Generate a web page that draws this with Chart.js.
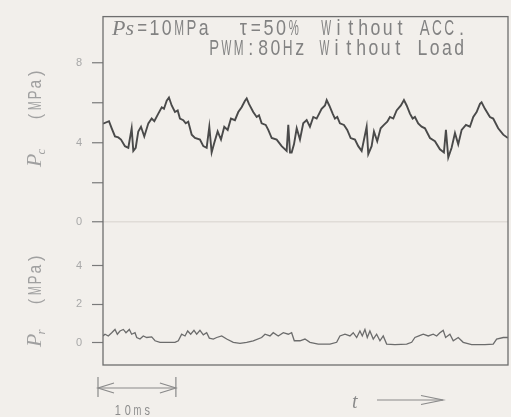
<!DOCTYPE html>
<html>
<head>
<meta charset="utf-8">
<script src="https://cdn.jsdelivr.net/npm/chart.js@4/dist/chart.umd.min.js"></script>
<style>
html, body { margin: 0; padding: 0; background: #f2efeb; }
canvas { display: block; }
</style>
</head>
<body>
<canvas id="c" width="511" height="417"></canvas>
<script>
// Control pressure Pc (MPa) against time (ms)
const pcTime = [0, 0.77, 1.12, 1.54, 1.96, 2.31, 2.82, 3.25, 3.68, 3.89, 4.20, 4.53, 4.88, 5.30, 5.82, 6.25, 6.59, 7.10, 7.54, 7.83, 8.18, 8.47, 8.82, 9.24, 9.59, 9.88, 10.31, 10.62, 10.95, 11.39, 11.81, 12.45, 12.88, 13.31, 13.65, 13.95, 14.29, 14.72, 15.15, 15.57, 16.01, 16.43,
  16.94, 17.37, 17.80, 18.23, 18.45, 18.74, 19.29, 19.73, 20.03, 20.37, 20.89, 21.22, 21.66, 22.30, 22.94, 23.58, 23.79, 24.01, 24.22, 24.52, 24.87, 25.29, 25.71, 26.15, 26.57, 27.00, 27.43, 28.07, 28.50, 28.72, 29.05, 29.49, 29.78, 30.08, 30.42, 30.94, 31.36, 31.80, 32.35, 32.77, 33.21, 33.85, 34.06, 34.49, 34.79, 35.21, 35.65, 36.07, 36.50, 36.84, 37.27, 37.70, 38.25, 38.64, 38.99, 39.41, 39.76, 40.05, 40.47, 40.91, 41.34, 41.98, 42.62, 43.26, 43.77, 44.03, 44.33, 44.76, 45.19, 45.61, 46.05, 46.60, 47.11, 47.54, 47.97, 48.40, 48.61, 49.04, 49.68, 50.10, 50.74, 51.39, 51.99];
const pcValues = [4.95, 5.08, 4.72, 4.31, 4.26, 4.15, 3.82, 3.74, 4.72, 3.58, 3.74, 4.56, 4.80, 4.31, 4.97, 5.21, 5.08, 5.46, 5.78, 5.70, 6.11, 6.27, 5.87, 5.54, 5.62, 5.21, 5.13, 4.97, 5.05, 4.40, 4.23, 4.15, 3.82, 3.74, 4.80, 3.50, 3.99, 4.56, 4.15, 4.80, 4.64, 5.21,
  5.13, 5.54, 5.78, 6.11, 6.23, 5.95, 5.54, 5.29, 5.38, 4.97, 4.89, 4.64, 4.23, 4.15, 3.82, 3.58, 4.89, 3.50, 3.50, 3.91, 4.72, 4.15, 4.97, 5.13, 4.80, 5.29, 5.21, 5.70, 5.87, 6.14, 5.87, 5.46, 5.21, 5.29, 4.97, 4.89, 4.64, 4.23, 4.15, 3.82, 3.58, 4.80, 3.42, 3.82, 4.56, 4.07, 4.72, 4.89, 5.05, 5.29, 5.21, 5.62, 5.87, 6.14, 5.87, 5.46, 5.21, 5.29, 4.97, 4.80, 4.72, 4.23, 4.07, 3.66, 3.50, 4.64, 3.25, 3.74, 4.48, 3.91, 4.64, 4.89, 4.80, 5.29, 5.54, 5.95, 6.03, 5.70, 5.29, 5.21, 4.72, 4.40, 4.23];

// Return pressure Pr (MPa) against time (ms)
const prTime = [0, 0.26, 0.68, 1.12, 1.54, 1.84, 2.18, 2.61, 2.95, 3.38, 3.68, 4.11, 4.33, 4.75, 5.17, 5.61, 6.25, 6.68, 7.32, 8.18, 9.24, 9.67, 10.10, 10.53, 10.87, 11.26, 11.68, 12.03, 12.45, 12.88, 13.31, 13.65, 14.16, 14.60, 15.24, 15.88, 16.73, 17.59, 18.45, 19.29, 20.37, 20.80, 21.44, 21.86, 22.50, 23.15, 23.79, 24.22, 24.56, 25.29, 25.93, 26.57, 27.64, 29.14, 30.00, 30.42, 31.07, 31.71, 32.13, 32.57, 32.99, 33.29, 33.63, 33.93, 34.27, 34.70, 35.13, 35.56, 35.98, 36.42, 37.48, 38.99, 39.63, 40.05, 40.56, 41.12, 41.76, 42.40, 42.84, 43.26, 43.68, 43.99, 44.54, 44.97, 45.61, 46.25, 47.33, 49.04, 50.10, 50.54, 51.39, 51.99];
const prValues = [0.35, 0.44, 0.35, 0.52, 0.69, 0.44, 0.61, 0.69, 0.52, 0.69, 0.44, 0.52, 0.27, 0.19, 0.35, 0.27, 0.30, 0.10, 0.02, 0.02, 0.02, 0.10, 0.44, 0.35, 0.61, 0.44, 0.64, 0.44, 0.64, 0.41, 0.52, 0.24, 0.19, 0.27, 0.35, 0.19, 0.02, -0.04, 0.02, 0.10, 0.27, 0.44, 0.35, 0.52, 0.35, 0.52, 0.44, 0.52, 0.10, 0.10, 0.19, 0.02, -0.07, -0.07, 0.02, 0.35, 0.44, 0.35, 0.52, 0.27, 0.61, 0.35, 0.69, 0.27, 0.61, 0.19, 0.44, 0.10, 0.35, -0.07, -0.10, -0.07, 0.02, 0.27, 0.35, 0.44, 0.35, 0.44, 0.35, 0.52, 0.64, 0.27, 0.44, 0.10, 0.27, 0.02, -0.10, -0.10, -0.07, 0.19, 0.27, 0.27];

// Axis ticks and their printed labels
const pcTicks = [0, 2, 4, 6, 8];
const pcTickLabels = ['0', '', '4', '', '8'];
const prTicks = [0, 2, 4];
const prTickLabels = ['0', '2', '4'];

const timeMin = 0, timeMax = 52, scaleBarMs = 10;

const faint = '#a0a0a0';

function toPoints(xs, ys) { return xs.map((t, i) => ({ x: t, y: ys[i] })); }

// typewriter-style text: narrow glyphs on a fixed pitch, wide letters squeezed into their cell
function pitchText(ctx, str, x, y, pitch, size, sx) {
  ctx.save();
  ctx.font = size + 'px "Liberation Sans"';
  ctx.textAlign = 'center';
  ctx.textBaseline = 'alphabetic';
  [...str].forEach((ch, i) => {
    if (ch === ' ') return;
    const w = ctx.measureText(ch).width;
    const k = Math.min(sx, (pitch * 0.8) / w);
    ctx.save();
    ctx.translate(x + pitch * (i + 0.5), y);
    ctx.scale(k, 1);
    ctx.fillText(ch, 0, 0);
    ctx.restore();
  });
  ctx.restore();
}

function arrowHead(ctx, x, y, dir, len, spread) {
  ctx.beginPath();
  ctx.moveTo(x - dir * len, y - spread);
  ctx.lineTo(x, y);
  ctx.lineTo(x - dir * len, y + spread);
  ctx.stroke();
}

function axisTitle(ctx, x, y, sub, gap) {
  ctx.save();
  ctx.translate(x, y);
  ctx.rotate(-Math.PI / 2);
  ctx.fillStyle = faint;
  ctx.textBaseline = 'alphabetic';
  ctx.font = 'italic 22px "Liberation Serif"';
  ctx.fillText('P', 0, 0);
  const pw = ctx.measureText('P').width;
  ctx.font = 'italic 13px "Liberation Serif"';
  ctx.fillText(sub, pw - 1, 4);
  pitchText(ctx, '(MPa)', gap, 0, 10.8, 19, 0.85);
  ctx.restore();
}

const decor = {
  id: 'decor',
  beforeDraw(chart) {
    const ctx = chart.ctx;
    ctx.save();
    ctx.fillStyle = '#f2efeb';
    ctx.fillRect(0, 0, chart.width, chart.height);
    ctx.restore();
  },
  afterDraw(chart) {
    const ctx = chart.ctx;
    const a = chart.chartArea;
    const xs = chart.scales.x;
    ctx.save();

    // plot frame
    ctx.strokeStyle = '#6e6e6e';
    ctx.lineWidth = 1.3;
    ctx.strokeRect(a.left, a.top, a.right - a.left, a.bottom - a.top);

    // operating conditions
    ctx.fillStyle = '#828282';
    ctx.font = 'italic 22px "Liberation Serif"';
    ctx.fillText('Ps', 112, 35);
    pitchText(ctx, '=10MPa', 136, 35, 12.3, 22, 0.82);
    pitchText(ctx, 'τ=50%', 237, 35, 12.6, 22, 0.82);
    pitchText(ctx, 'Without ACC.', 320, 35, 12.3, 22, 0.82);
    pitchText(ctx, 'PWM:80Hz Without Load', 208, 55, 12.25, 22, 0.82);

    // axis titles
    axisTitle(ctx, 41, 167, 'c', 45);
    axisTitle(ctx, 41, 347, 'r', 40);

    // time scale bar
    ctx.strokeStyle = '#8a8a8a';
    ctx.fillStyle = '#8a8a8a';
    ctx.lineWidth = 1.2;
    const x0 = xs.getPixelForValue(timeMin) - 5;
    const x1 = x0 + (xs.getPixelForValue(scaleBarMs) - xs.getPixelForValue(0));
    const yb = 388;
    ctx.beginPath();
    ctx.moveTo(x0, 377); ctx.lineTo(x0, 397);
    ctx.moveTo(x1, 377); ctx.lineTo(x1, 397);
    ctx.moveTo(x0, yb); ctx.lineTo(x1, yb);
    ctx.stroke();
    arrowHead(ctx, x0, yb, -1, 16, 5);
    arrowHead(ctx, x1, yb, 1, 16, 5);
    ctx.fillStyle = '#8c8c8c';
    pitchText(ctx, '10ms', 113, 415, 9.8, 14, 0.78);

    // time direction
    ctx.fillStyle = '#8a8a8a';
    ctx.font = 'italic 20px "Liberation Serif"';
    ctx.fillText('t', 352, 408);
    ctx.beginPath();
    ctx.moveTo(377, 400); ctx.lineTo(443, 400);
    ctx.stroke();
    arrowHead(ctx, 443, 400, 1, 22, 4.5);

    ctx.restore();
  }
};

const tickFont = { family: 'Liberation Sans', size: 11 };

new Chart(document.getElementById('c'), {
  type: 'line',
  data: {
    datasets: [
      {
        label: 'Pc',
        data: toPoints(pcTime, pcValues),
        yAxisID: 'yPc',
        borderColor: '#4a4a4a',
        borderWidth: 1.9,
        pointRadius: 0,
        tension: 0,
        fill: false
      },
      {
        label: 'Pr',
        data: toPoints(prTime, prValues),
        yAxisID: 'yPr',
        borderColor: '#6c6c6c',
        borderWidth: 1.3,
        pointRadius: 0,
        tension: 0,
        fill: false
      }
    ]
  },
  options: {
    responsive: false,
    animation: false,
    devicePixelRatio: 1,
    layout: { padding: { left: 63, top: 7, right: 3, bottom: 52 } },
    plugins: { legend: { display: false }, tooltip: { enabled: false } },
    scales: {
      x: { type: 'linear', min: timeMin, max: timeMax, display: false },
      yPr: {
        type: 'linear', position: 'left', stack: 'p', stackWeight: 147, weight: 1,
        min: -1.16, max: 6.28,
        afterBuildTicks: s => { s.ticks = prTicks.map(v => ({ value: v })); },
        afterFit: s => { s.width = 40; },
        border: { display: false },
        grid: { drawOnChartArea: false, drawTicks: true, tickLength: 11, tickColor: '#7a7a7a', tickWidth: 1.2 },
        ticks: { padding: 10, color: '#a8a8a8', font: tickFont,
          callback: v => { const i = prTicks.indexOf(v); return i < 0 ? '' : prTickLabels[i]; } }
      },
      yPc: {
        type: 'linear', position: 'left', stack: 'p', stackWeight: 211, weight: 2,
        min: 0, max: 10.35,
        afterBuildTicks: s => { s.ticks = pcTicks.map(v => ({ value: v })); },
        afterFit: s => { s.width = 40; },
        border: { display: false },
        grid: {
          drawOnChartArea: true, drawTicks: true, tickLength: 11, tickWidth: 1.2,
          tickColor: '#7a7a7a',
          color: c => (c.tick && c.tick.value === 0) ? '#e0dcd7' : 'rgba(0,0,0,0)',
          lineWidth: 1.5
        },
        ticks: { padding: 10, color: '#a8a8a8', font: tickFont,
          callback: v => { const i = pcTicks.indexOf(v); return i < 0 ? '' : pcTickLabels[i]; } }
      }
    }
  },
  plugins: [decor]
});
</script>
</body>
</html>
